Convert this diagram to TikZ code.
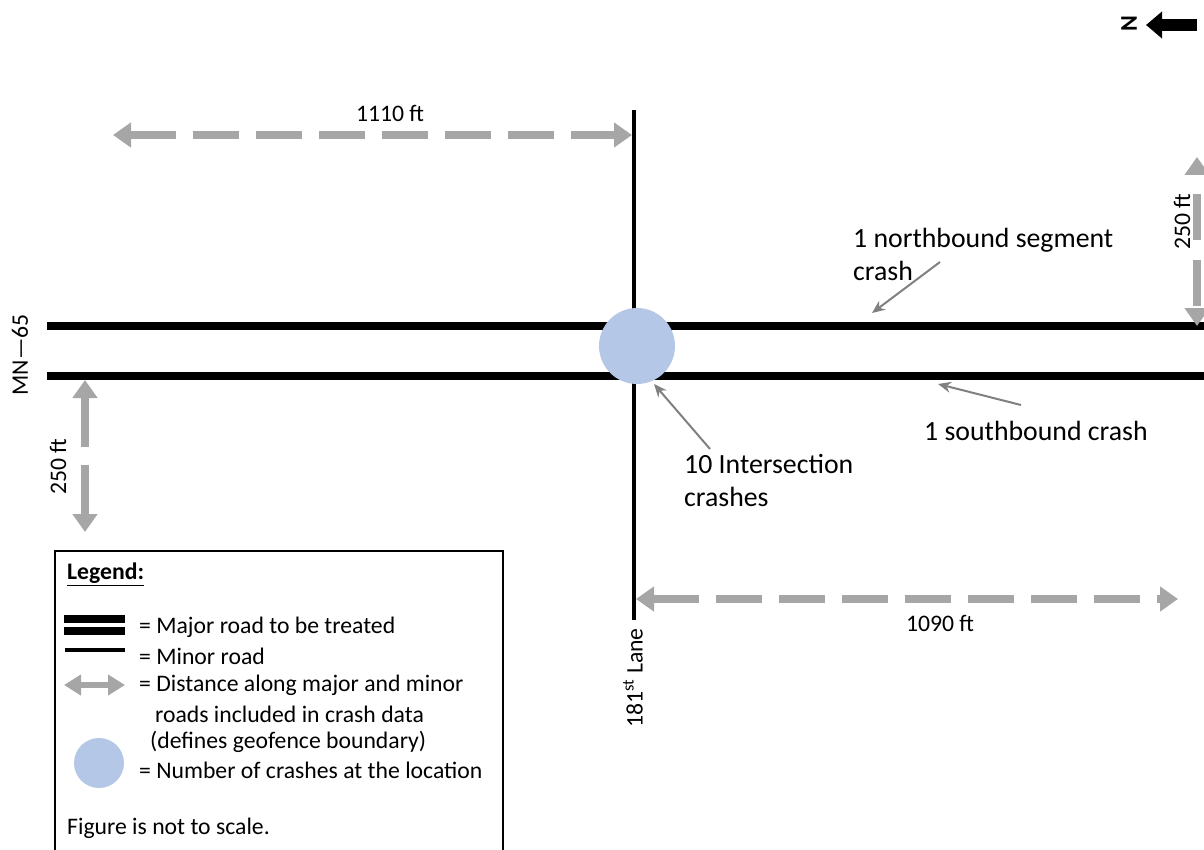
\documentclass[tikz,border=0pt]{standalone}
\usepackage{fontspec}
\setmainfont{Carlito}
\usetikzlibrary{arrows.meta, positioning}
\definecolor{distgray}{RGB}{166,166,166}
\definecolor{crashblue}{RGB}{180,199,231}
\definecolor{notegray}{RGB}{128,128,128}

\begin{document}
\begin{tikzpicture}[
    x=1pt, y=-1pt,
    font=\fontsize{23.7}{29}\selectfont,
    major/.style={line width=8pt},
    minor/.style={line width=4pt},
    dist/.style={draw=distgray, line width=8pt, {Triangle[width=24pt,length=18pt]}-{Triangle[width=24pt,length=18pt]}},
    note/.style={draw=notegray, line width=2pt, -{Stealth[length=13pt,width=11pt]}},
    txt/.style={inner sep=0pt, anchor=west, align=left},
    notetxt/.style={txt, font=\fontsize{27.8}{33}\selectfont},
    crash/.style={circle, fill=crashblue, minimum size=#1, inner sep=0pt}
]
\useasboundingbox (0,0) rectangle (1204,850);

% major road (MN-65) and minor road (181st Lane)
\coordinate (mjNW) at (47,326);
\coordinate (mjNE) at (1210,326);
\coordinate (mjSW) at (47,376);
\coordinate (mjSE) at (1210,376);
\coordinate (mnN) at (634,110);
\coordinate (mnS) at (634,620);
\draw[minor] (mnN) -- (mnS);
\draw[major] (mjNW) -- (mjNE);
\draw[major] (mjSW) -- (mjSE);
\node[crash=76pt] (isect) at (637,346) {};

\node[rotate=90, inner sep=0pt] (mn65) at (20,355) {MN---65};
\node[rotate=90, inner sep=0pt, anchor=east] (lane) at (633,628) {181\textsuperscript{st} Lane};

% distances
\coordinate (d1w) at (113,135);
\coordinate (d1e) at (632,135);
\draw[dist, dash pattern=on 46pt off 17pt] (d1w) -- (d1e);
\node[inner sep=0pt] (d1lbl) at (390,113) {1110 ft};

\coordinate (d2w) at (636,599);
\coordinate (d2e) at (1178,599);
\draw[dist, dash pattern=on 46pt off 17pt] (d2w) -- (d2e);
\node[inner sep=0pt] (d2lbl) at (940,623) {1090 ft};

\coordinate (d3n) at (85,380);
\coordinate (d3s) at (85,532);
\draw[dist, dash pattern=on 50pt off 18pt] (d3n) -- (d3s);
\node[rotate=90, inner sep=0pt] (d3lbl) at (58,467) {250 ft};

\coordinate (d4n) at (1197,157);
\coordinate (d4s) at (1197,326);
\draw[dist, dash pattern=on 46pt off 20pt, dash phase=46pt] (d4n) -- (d4s);
\node[rotate=90, inner sep=0pt] (d4lbl) at (1182,222) {250 ft};

% north arrow
\node[rotate=90, inner sep=0pt, font=\fontsize{24}{26}\selectfont\bfseries] (north) at (1129,24) {N};
\coordinate (nTail) at (1197,25);
\coordinate (nHead) at (1146,25);
\draw[line width=12pt, -{Triangle[width=26pt,length=16pt]}] (nTail) -- (nHead);

% crash notes
\node[notetxt] (nb) at (853,254) {1 northbound segment\\crash};
\coordinate (nbTail) at (940,262);
\coordinate (nbHead) at (872,313);
\draw[note] (nbTail) -- (nbHead);

\node[notetxt] (sb) at (924,431) {1 southbound crash};
\coordinate (sbTail) at (1021,405);
\coordinate (sbHead) at (938,384);
\draw[note] (sbTail) -- (sbHead);

\node[notetxt] (ix) at (684,480) {10 Intersection\\crashes};
\coordinate (ixTail) at (710,449);
\coordinate (ixHead) at (654,384);
\draw[note] (ixTail) -- (ixHead);

% legend
\draw[line width=1.5pt] (55,551) rectangle (503,870);
\node[txt] (lgTitle) at (67,574) {\underline{\textbf{Legend:}}};
\draw[major] (64,619) -- (125,619);
\draw[major] (64,631) -- (125,631);
\node[txt] (lgMajor) at (139,627) {= Major road to be treated};
\draw[minor] (65,650) -- (125,650);
\node[txt] (lgMinor) at (139,656) {= Minor road};
\coordinate (lgDw) at (64,685);
\coordinate (lgDe) at (125,685);
\draw[dist, line width=6pt, {Triangle[width=20pt,length=17pt]}-{Triangle[width=20pt,length=17pt]}] (lgDw) -- (lgDe);
\node[txt] (lgDist) at (139,685) {= Distance along major and minor};
\node[txt] (lgDist2) at (155,714) {roads included in crash data};
\node[txt] (lgDist3) at (150,742) {(defines geofence boundary)};
\node[crash=50pt] (lgCrash) at (99,763) {};
\node[txt] (lgCrashTxt) at (139,770) {= Number of crashes at the location};
\node[txt] (lgScale) at (67,828) {Figure is not to scale.};
\end{tikzpicture}
\end{document}
